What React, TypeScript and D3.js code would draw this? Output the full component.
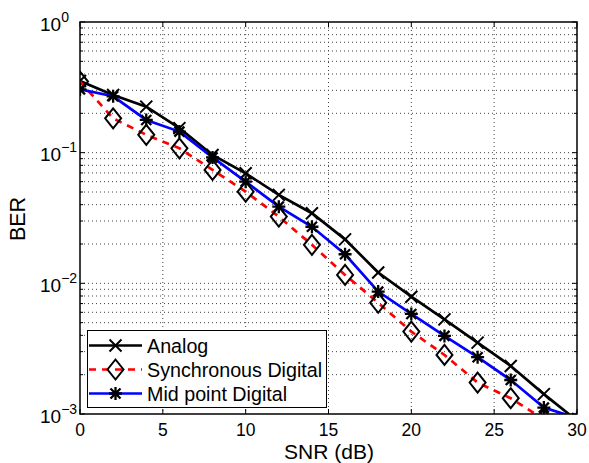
import React from "react";
import * as d3 from "d3";

const snr = [0, 2, 4, 6, 8, 10, 12, 14, 16, 18, 20, 22, 24, 26, 28, 30];
const analog = [0.354, 0.276, 0.225, 0.154, 0.096, 0.0695, 0.0475, 0.0344, 0.0217, 0.0121, 0.0079, 0.0053, 0.00352, 0.00233, 0.00142, 0.00089];
const syncDigital = [0.35, 0.183, 0.137, 0.108, 0.0738, 0.0503, 0.0324, 0.0197, 0.0116, 0.0071, 0.00427, 0.00283, 0.00174, 0.00132, 0.00091, 0.0006];
const midDigital = [0.305, 0.27, 0.178, 0.145, 0.092, 0.06, 0.0386, 0.0271, 0.0167, 0.00865, 0.00583, 0.00396, 0.00272, 0.00182, 0.00112, 0.00093];
const xTicks = [0, 5, 10, 15, 20, 25, 30];
const yExps = [0, -1, -2, -3];

const W = 589, H = 463;
const L = 80, R = 577, T = 22, B = 414;

export default function App() {
  const x = d3.scaleLinear().domain([0, 30]).range([L, R]);
  const y = d3.scaleLog().domain([1e-3, 1]).range([B, T]);
  const line = d3.line<number>().x((_, i) => x(snr[i])).y((v) => y(v));
  const font = "Liberation Sans, Arial, Helvetica, sans-serif";

  const minorY: number[] = [];
  for (let e = -3; e < 0; e++) for (let m = 1; m <= 9; m++) minorY.push(m * Math.pow(10, e));
  minorY.push(1);

  const xMark = (cx: number, cy: number, k: string) => (
    <path key={k} d={`M${cx - 6},${cy - 6}L${cx + 6},${cy + 6}M${cx - 6},${cy + 6}L${cx + 6},${cy - 6}`} stroke="#000" strokeWidth={2} fill="none" />
  );
  const diamond = (cx: number, cy: number, k: string) => (
    <path key={k} d={`M${cx},${cy - 10}L${cx + 8},${cy}L${cx},${cy + 10}L${cx - 8},${cy}Z`} stroke="#000" strokeWidth={2} fill="none" />
  );
  const star = (cx: number, cy: number, k: string) => (
    <path key={k} d={`M${cx - 6.5},${cy}L${cx + 6.5},${cy}M${cx},${cy - 6.5}L${cx},${cy + 6.5}M${cx - 5},${cy - 5}L${cx + 5},${cy + 5}M${cx - 5},${cy + 5}L${cx + 5},${cy - 5}`} stroke="#000" strokeWidth={2.3} fill="none" />
  );

  const series = [
    { name: "Analog", data: analog, color: "#000", dash: undefined as string | undefined, mk: xMark },
    { name: "Synchronous Digital", data: syncDigital, color: "#ff0000", dash: "7,6", mk: diamond },
    { name: "Mid point Digital", data: midDigital, color: "#0000ff", dash: undefined, mk: star },
  ];

  return (
    <svg width={W} height={H} style={{ position: "absolute", left: 0, top: 0, background: "#fff" }} fontFamily={font}>
      <defs>
        <clipPath id="plot">
          <rect x={L} y={T} width={R - L} height={B - T} />
        </clipPath>
      </defs>
      <rect x={0} y={0} width={W} height={H} fill="#fff" />
      {/* grid */}
      <g stroke="#444" strokeWidth={1} strokeDasharray="1,3">
        {xTicks.slice(1, -1).map((t) => (
          <line key={"gx" + t} x1={x(t)} x2={x(t)} y1={T} y2={B} />
        ))}
        {minorY.filter((v) => v > 1.0001e-3 && v < 0.9999).map((v, i) => (
          <line key={"gy" + i} x1={L} x2={R} y1={y(v)} y2={y(v)} />
        ))}
      </g>
      {/* ticks */}
      <g stroke="#000" strokeWidth={1}>
        {xTicks.map((t) => (
          <g key={"tx" + t}>
            <line x1={x(t)} x2={x(t)} y1={B} y2={B - 5} />
            <line x1={x(t)} x2={x(t)} y1={T} y2={T + 5} />
          </g>
        ))}
        {minorY.map((v, i) => {
          const major = Math.abs(Math.log10(v) - Math.round(Math.log10(v))) < 1e-6;
          const len = major ? 5 : 3;
          return (
            <g key={"ty" + i}>
              <line x1={L} x2={L + len} y1={y(v)} y2={y(v)} />
              <line x1={R} x2={R - len} y1={y(v)} y2={y(v)} />
            </g>
          );
        })}
      </g>
      {/* series */}
      <g clipPath="url(#plot)">
        {series.map((s) => (
          <g key={s.name}>
            <path d={line(s.data) || ""} fill="none" stroke={s.color} strokeWidth={2.7} strokeDasharray={s.dash} />
            {s.data.map((v, i) => s.mk(x(snr[i]), y(v), s.name + i))}
          </g>
        ))}
      </g>
      {/* box */}
      <rect x={L} y={T} width={R - L} height={B - T} fill="none" stroke="#000" strokeWidth={1.5} />
      {/* tick labels */}
      <g fontSize={17.5} fill="#000">
        {xTicks.map((t) => (
          <text key={"lx" + t} x={x(t)} y={436} textAnchor="middle">{t}</text>
        ))}
        {yExps.map((e) => (
          <text key={"ly" + e} x={40} y={y(Math.pow(10, e)) + 8.5} fontSize={19}>
            10
            <tspan dy={-9} fontSize={14}>{e === 0 ? "0" : "\u2212" + Math.abs(e)}</tspan>
          </text>
        ))}
      </g>
      {/* axis labels */}
      <text x={329} y={459} textAnchor="middle" fontSize={21}>SNR (dB)</text>
      <text transform={`translate(25,219) rotate(-90)`} textAnchor="middle" fontSize={21.5}>BER</text>
      {/* legend */}
      <g>
        <rect x={87.5} y={330.5} width={239} height={77} fill="#fff" stroke="#000" strokeWidth={1} />
        {series.map((s, i) => {
          const cy = 345.5 + i * 24;
          return (
            <g key={"lg" + s.name}>
              <line x1={89} x2={142} y1={cy} y2={cy} stroke={s.color} strokeWidth={2.7} strokeDasharray={s.dash} />
              {s.mk(115.5, cy, "lgm" + i)}
              <text x={147} y={cy + 7.5} fontSize={19.7}>{s.name}</text>
            </g>
          );
        })}
      </g>
    </svg>
  );
}
